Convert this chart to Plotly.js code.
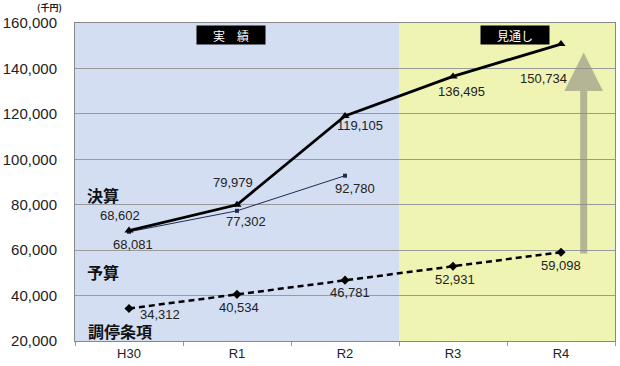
<!DOCTYPE html>
<html><head><meta charset="utf-8">
<script src="https://cdn.plot.ly/plotly-3.0.1.min.js"></script>
<style>body{margin:0;padding:0;background:#fff}#chart{width:620px;height:366px}</style>
</head><body><div id="chart"></div>
<script>
const categories = ['H30','R1','R2','R3','R4'];
const kessan = [68602, 79979, 119105, 136495, 150734];
const yosan = [68081, 77302, 92780];
const choutei = [34312, 40534, 46781, 52931, 59098];
const yTicks = [20000,40000,60000,80000,100000,120000,140000,160000];
const yTickText = ['20,000','40,000','60,000','80,000','100,000','120,000','140,000','160,000'];

const fmt = v => v.toLocaleString('en-US');

const traces = [
  {x: categories.slice(0, yosan.length), y: yosan, type:'scatter', mode:'lines+markers',
   line:{color:'#1f2a55', width:1}, marker:{symbol:'square', size:4, color:'#1f2a55'}, hoverinfo:'none'},
  {x: categories, y: kessan, type:'scatter', mode:'lines+markers',
   line:{color:'#000', width:2.8}, marker:{symbol:'triangle-up', size:8, color:'#000'}, hoverinfo:'none'},
  {x: categories, y: choutei, type:'scatter', mode:'lines+markers',
   line:{color:'#000', width:2.5, dash:'6px,4px'}, marker:{symbol:'diamond', size:7, color:'#000'}, hoverinfo:'none'}
];

const labelFont = {family:'Liberation Sans, Arial, sans-serif', size:13, color:'#222'};
const kOff = [[-9,15],[-4,22],[15,-10],[8,-15],[-18,-34]];
const yOff = [[4,-13],[9,-11],[10,-13]];
const cOff = [[31,-6],[2,-13],[5,-12],[2,-13],[0,-13]];
const ann = [];
kessan.forEach((v,i)=>ann.push({x:categories[i], y:v, xref:'x', yref:'y', text:fmt(v), showarrow:false, font:labelFont, xshift:kOff[i][0], yshift:kOff[i][1]}));
yosan.forEach((v,i)=>ann.push({x:categories[i], y:v, xref:'x', yref:'y', text:fmt(v), showarrow:false, font:labelFont, xshift:yOff[i][0], yshift:yOff[i][1]}));
choutei.forEach((v,i)=>ann.push({x:categories[i], y:v, xref:'x', yref:'y', text:fmt(v), showarrow:false, font:labelFont, xshift:cOff[i][0], yshift:cOff[i][1]}));

const cjk = {family:'Noto Sans CJK JP, sans-serif', size:16, color:'#111', weight:700};
const mid = {xanchor:'center', yanchor:'middle', showarrow:false, xref:'paper', yref:'paper'};
ann.push(Object.assign({x:0.052, y:0.46, text:'決算', font:cjk}, mid));
ann.push(Object.assign({x:0.052, y:0.218, text:'予算', font:cjk}, mid));
ann.push(Object.assign({x:0.083, y:0.03, text:'調停条項', font:cjk}, mid));

const boxFont = {family:'Noto Sans CJK JP, sans-serif', size:12, color:'#fff'};
ann.push(Object.assign({x:0.289, y:0.963, text:'実　績', font:boxFont, bgcolor:'#000', width:64, height:14, borderpad:2}, mid));
ann.push(Object.assign({x:0.815, y:0.963, text:'見通し', font:boxFont, bgcolor:'#000', width:64, height:14, borderpad:2}, mid));

ann.push(Object.assign({x:-0.048, y:1.05, text:'(千円)', borderpad:0,
  font:{family:'Noto Sans CJK JP, sans-serif', size:9, color:'#222', weight:700}}, mid));

// gray upward arrow
ann.push({xref:'x', yref:'y', axref:'x', ayref:'y', x:4.21, y:147000, ax:4.21, ay:57900, text:'', showarrow:true,
  arrowhead:2, arrowsize:1.1, arrowwidth:7, arrowcolor:'rgba(140,140,130,0.6)', standoff:0, startstandoff:0});

const layout = {
  width:620, height:366,
  margin:{l:75, r:5, t:23, b:25},
  paper_bgcolor:'#fff', plot_bgcolor:'rgba(0,0,0,0)',
  showlegend:false,
  xaxis:{type:'category', range:[-0.5,4.5], showgrid:false, ticks:'outside', tickson:'boundaries', ticklen:4, tickcolor:'#999',
    showline:true, linecolor:'#888', linewidth:1, mirror:true,
    tickfont:{family:'Liberation Sans, Arial, sans-serif', size:13, color:'#222'}},
  yaxis:{range:[20000,160000], tickvals:yTicks, ticktext:yTickText, showgrid:true, gridcolor:'#9a9a9a', gridwidth:1,
    showline:true, linecolor:'#888', mirror:true, ticks:'outside', ticklen:14, tickcolor:'rgba(0,0,0,0)', zeroline:false,
    tickfont:{family:'Liberation Sans, Arial, sans-serif', size:15, color:'#222'}},
  shapes:[
    {type:'rect', xref:'x', yref:'paper', x0:-0.5, x1:2.5, y0:0, y1:1, fillcolor:'#d3def2', line:{width:0}, layer:'below'},
    {type:'rect', xref:'x', yref:'paper', x0:2.5, x1:4.5, y0:0, y1:1, fillcolor:'#eff4b2', line:{width:0}, layer:'below'}
  ],
  annotations: ann
};
Plotly.newPlot('chart', traces, layout, {staticPlot:true});
</script></body></html>
